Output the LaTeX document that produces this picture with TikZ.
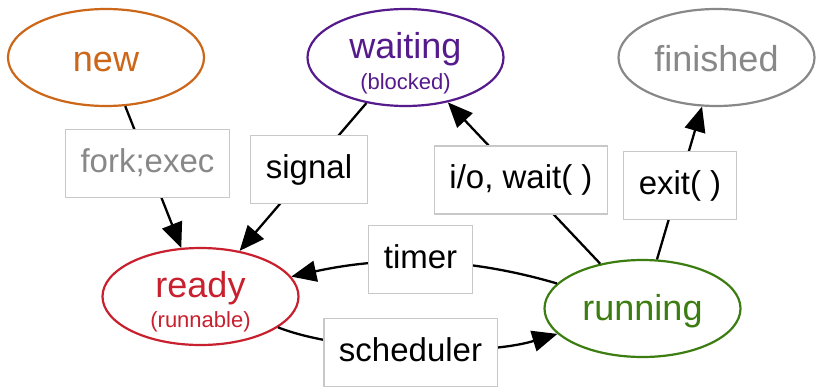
\documentclass[tikz,border=0pt]{standalone}
\usepackage{fontspec}
\setmainfont{Liberation Sans}
\usetikzlibrary{arrows.meta,shapes.geometric}
\definecolor{cnew}{HTML}{CC6619}
\definecolor{cwait}{HTML}{551A8B}
\definecolor{cready}{HTML}{C8202E}
\definecolor{crun}{HTML}{3C7D12}
\definecolor{cfin}{HTML}{888888}
\definecolor{cbox}{HTML}{C8C8C8}
\begin{document}
\begin{tikzpicture}[x=1pt,y=-1pt,
 state/.style={ellipse, draw, line width=2.2pt, fill=white, minimum width=196pt, minimum height=97pt, inner sep=0pt},
 lbl/.style={anchor=base, inner sep=0pt, font=\fontsize{36}{40}\selectfont},
 sub/.style={anchor=base, inner sep=0pt, font=\fontsize{22}{26}\selectfont},
 tbox/.style={draw=cbox, line width=1.1pt, fill=white, font=\fontsize{33}{38}\selectfont, inner xsep=15pt, inner ysep=0pt, minimum height=68pt, text height=24pt, text depth=7pt},
 edge/.style={line width=2.3pt, -{Triangle[length=25pt,width=21pt]}}]
\useasboundingbox[fill=white] (0,0) rectangle (816,386);
% states
\node[state, draw=cnew] (new) at (106,57.5) {};
\node[lbl, text=cnew] (newT) at (106,71) {new};
\node[state, draw=cwait] (waiting) at (405.5,57.5) {};
\node[lbl, text=cwait] (waitT) at (405.5,58) {waiting};
\node[sub, text=cwait] (waitS) at (405.5,89) {(blocked)};
\node[state, draw=cfin] (finished) at (716.5,57.5) {};
\node[lbl, text=cfin] (finT) at (716.5,71) {finished};
\node[state, draw=cready] (ready) at (200.5,296.5) {};
\node[lbl, text=cready] (readyT) at (200.5,297) {ready};
\node[sub, text=cready] (readyS) at (200.5,327) {(runnable)};
\node[state, draw=crun] (running) at (642.5,308.5) {};
\node[lbl, text=crun] (runT) at (642.5,320) {running};
% edges
\draw[edge] (new) -- (ready);
\draw[edge] (waiting) -- (ready);
\draw[edge] (running) -- (waiting);
\draw[edge] (running) -- (finished);
\draw[edge] (running) .. controls (470,258) and (390,255) .. (ready);
\draw[edge] (ready) .. controls (340,352) and (480,357) .. (running);
% labels
\node[tbox, text=cfin] (lfork) at (147.5,163.5) {fork;exec};
\node[tbox] (lsignal) at (309,169.5) {signal};
\node[tbox] (lio) at (521,180) {i/o, wait( )};
\node[tbox] (lexit) at (680,185.5) {exit( )};
\node[tbox] (ltimer) at (420.5,259.5) {timer};
\node[tbox] (lsched) at (410.5,352.5) {scheduler};
\end{tikzpicture}
\end{document}
